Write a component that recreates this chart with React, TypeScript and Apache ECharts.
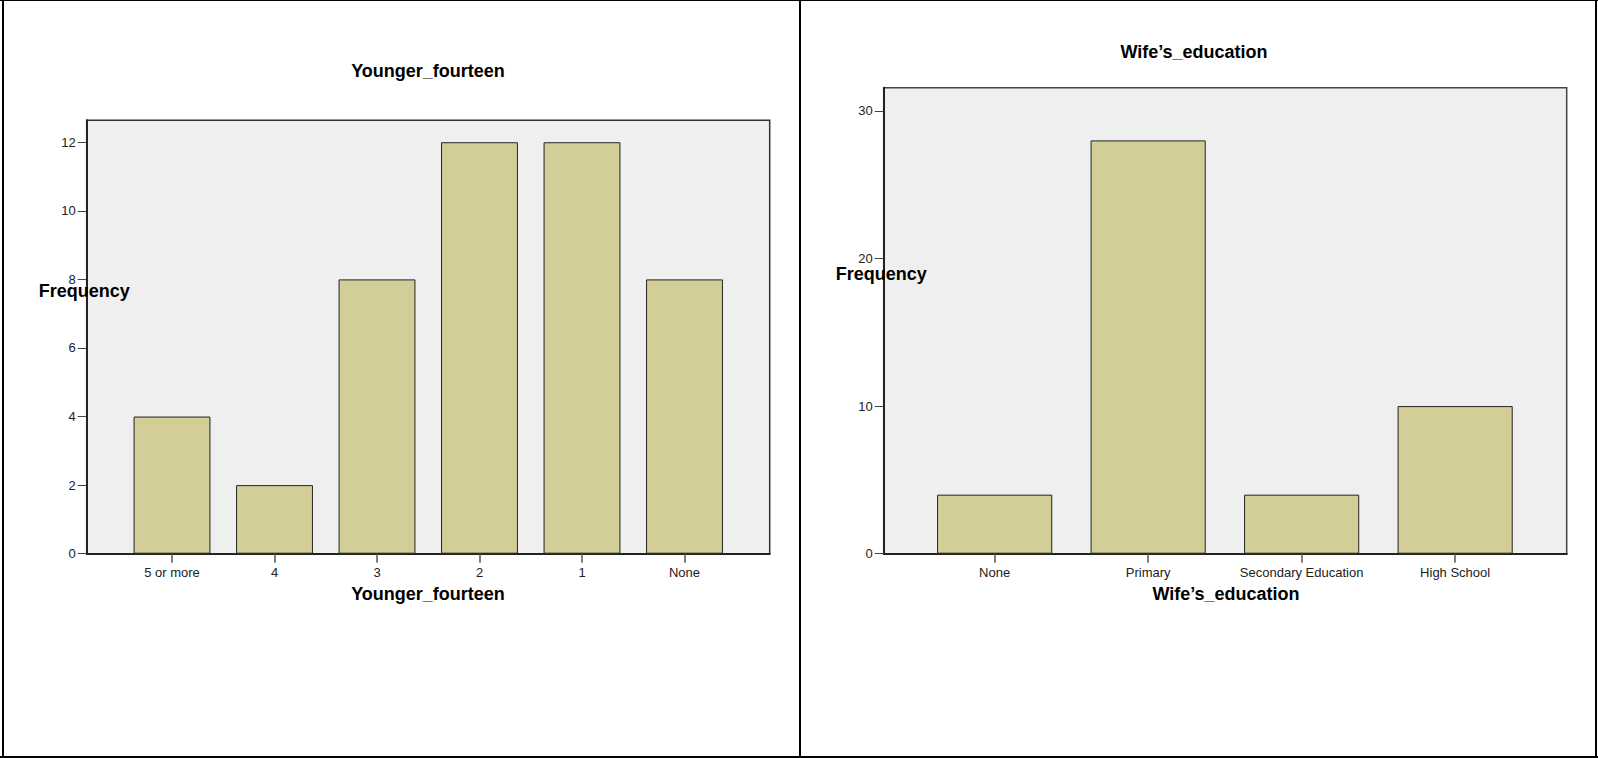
import React, { useEffect, useRef } from "react";
import * as echarts from "echarts";

const youngerCategories = ["5 or more", "4", "3", "2", "1", "None"];
const youngerValues = [4, 2, 8, 12, 12, 8];
const youngerTicks = [0, 2, 4, 6, 8, 10, 12];

const eduCategories = ["None", "Primary", "Secondary Education", "High School"];
const eduValues = [4, 28, 4, 10];
const eduTicks = [0, 10, 20, 30];

const FONT = "'Liberation Sans', Arial, sans-serif";
const BAR = "#d3ce98";
const INK = "#222";

function buildOption() {
  const outerX = (gi: number) => ({
    gridIndex: gi,
    type: "value",
    min: 0,
    max: 1,
    axisLine: { show: true, lineStyle: { color: INK, width: 2 } },
    axisTick: { show: false },
    axisLabel: { show: false },
    splitLine: { show: false },
  });
  const outerY = (gi: number, max: number, interval: number, ticks: number[]) => ({
    gridIndex: gi,
    type: "value",
    min: 0,
    max,
    interval,
    axisLine: { show: true, lineStyle: { color: INK, width: 2 } },
    axisTick: { show: true, length: 9, inside: false, lineStyle: { color: "#444", width: 1 }, customValues: ticks },
    axisLabel: { show: true, fontSize: 13, color: INK, fontFamily: FONT, margin: 11, customValues: ticks },
    splitLine: { show: false },
  });
  const innerX = (gi: number, cats: string[]) => ({
    gridIndex: gi,
    type: "category",
    data: cats,
    axisLine: { show: false },
    axisTick: { show: true, alignWithLabel: true, length: 9, lineStyle: { color: "#555", width: 1.5 } },
    axisLabel: { show: true, fontSize: 13, color: INK, fontFamily: FONT, margin: 12, interval: 0 },
    splitLine: { show: false },
  });
  const innerY = (gi: number, max: number) => ({
    gridIndex: gi,
    type: "value",
    min: 0,
    max,
    show: false,
    splitLine: { show: false },
  });

  const leftMax = 12.64;
  const rightMax = 31.57;

  const txt = (text: string, x: number, y: number, align: string, size = 18) => ({
    type: "text",
    x,
    y,
    style: {
      text,
      fill: "#000",
      fontSize: size,
      fontWeight: "bold",
      fontFamily: FONT,
      textAlign: align,
      textVerticalAlign: "middle",
    },
    z: 10,
  });

  return {
    animation: false,
    backgroundColor: "#fff",
    textStyle: { fontFamily: FONT },
    grid: [
      { left: 86.7, top: 120.3, width: 683, height: 433.4, show: true, backgroundColor: "#efefef", borderColor: "#333", borderWidth: 1.5 },
      { left: 120.75, top: 120.3, width: 615, height: 433.4, show: false },
      { left: 883.7, top: 87.7, width: 683, height: 466, show: true, backgroundColor: "#efefef", borderColor: "#444", borderWidth: 1.5 },
      { left: 917.9, top: 87.7, width: 614, height: 466, show: false },
    ],
    xAxis: [outerX(0), innerX(1, youngerCategories), outerX(2), innerX(3, eduCategories)],
    yAxis: [
      outerY(0, leftMax, 2, youngerTicks),
      innerY(1, leftMax),
      outerY(2, rightMax, 10, eduTicks),
      innerY(3, rightMax),
    ],
    series: [
      {
        type: "bar",
        xAxisIndex: 1,
        yAxisIndex: 1,
        data: youngerValues,
        barWidth: "75%",
        itemStyle: { color: BAR, borderColor: INK, borderWidth: 1 },
        z: 3,
      },
      {
        type: "bar",
        xAxisIndex: 3,
        yAxisIndex: 3,
        data: eduValues,
        barWidth: "75%",
        itemStyle: { color: BAR, borderColor: INK, borderWidth: 1 },
        z: 3,
      },
    ],
    graphic: [
      { type: "rect", shape: { x: 0, y: 0, width: 1598, height: 1 }, style: { fill: "#000" }, z: 20 },
      { type: "rect", shape: { x: 2, y: 0, width: 2, height: 758 }, style: { fill: "#000" }, z: 20 },
      { type: "rect", shape: { x: 799, y: 0, width: 2, height: 758 }, style: { fill: "#000" }, z: 20 },
      { type: "rect", shape: { x: 1595, y: 0, width: 2, height: 758 }, style: { fill: "#000" }, z: 20 },
      { type: "rect", shape: { x: 0, y: 756, width: 1598, height: 2 }, style: { fill: "#000" }, z: 20 },
      txt("Younger_fourteen", 428, 71, "center"),
      txt("Younger_fourteen", 428, 594, "center"),
      txt("Frequency", 38.7, 290.5, "left"),
      txt("Wife\u2019s_education", 1194, 52, "center"),
      txt("Wife\u2019s_education", 1226, 594, "center"),
      txt("Frequency", 835.7, 274, "left"),
    ],
  };
}

export default function App() {
  const ref = useRef<HTMLDivElement>(null);
  useEffect(() => {
    if (!ref.current) return;
    const chart = echarts.init(ref.current, undefined, { renderer: "svg" });
    chart.setOption(buildOption() as any);
    return () => chart.dispose();
  }, []);
  return (
    <div
      ref={ref}
      style={{ position: "absolute", left: 0, top: 0, width: 1598, height: 758 }}
    />
  );
}
